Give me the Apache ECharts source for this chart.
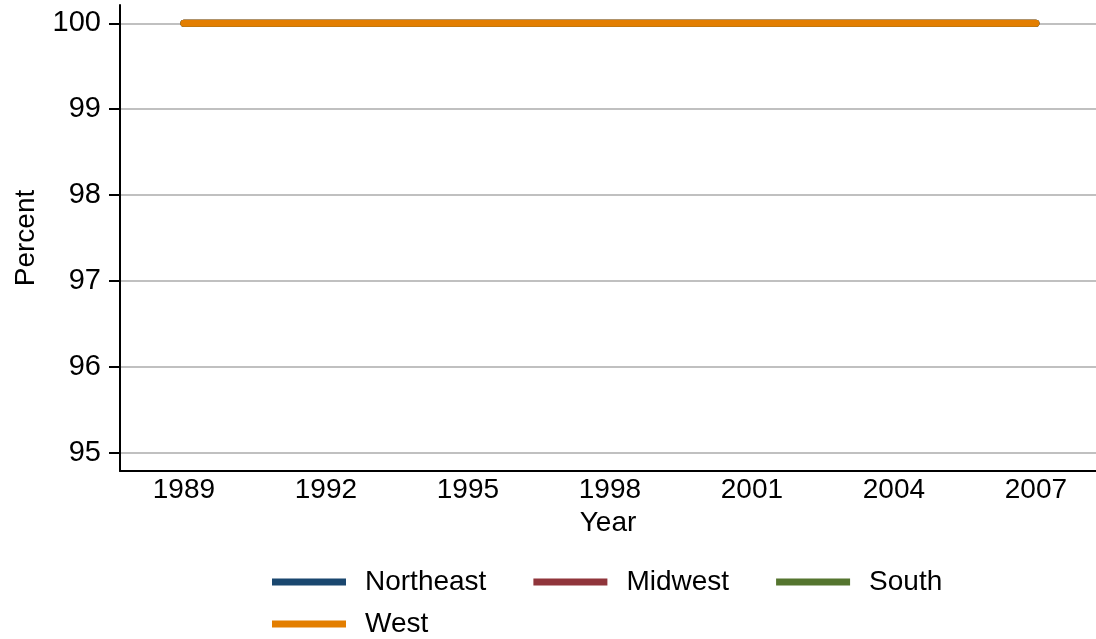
<!DOCTYPE html>
<html>
<head>
<meta charset="utf-8">
<script src="https://cdn.jsdelivr.net/npm/echarts@6/dist/echarts.min.js"></script>
<style>
html,body{margin:0;padding:0;background:#fff;}
#chart{width:1096px;height:639px;}
</style>
</head>
<body>
<div id="chart"></div>
<script>
const years = [1989,1990,1991,1992,1993,1994,1995,1996,1997,1998,1999,2000,2001,2002,2003,2004,2005,2006,2007];
const northeast = [100,100,100,100,100,100,100,100,100,100,100,100,100,100,100,100,100,100,100];
const midwest   = [100,100,100,100,100,100,100,100,100,100,100,100,100,100,100,100,100,100,100];
const south     = [100,100,100,100,100,100,100,100,100,100,100,100,100,100,100,100,100,100,100];
const west      = [100,100,100,100,100,100,100,100,100,100,100,100,100,100,100,100,100,100,100];
const xTicks = [1989,1992,1995,1998,2001,2004,2007];
const yTicks = [95,96,97,98,99,100];
const seriesNames = ['Northeast','Midwest','South','West'];
const colors = ['#1a476f','#90353b','#55752f','#e37e00'];
const seriesData = [northeast, midwest, south, west];

const font = 'Liberation Sans, Arial, sans-serif';
const chart = echarts.init(document.getElementById('chart'));
chart.setOption({
  animation: false,
  backgroundColor: '#ffffff',
  grid: { left: 120, right: 0, top: 5, bottom: 168, containLabel: false, outerBoundsMode: 'none' },
  xAxis: {
    type: 'value',
    min: 1987.65, max: 2008.27,
    name: 'Year', nameLocation: 'middle', nameGap: 36,
    nameTextStyle: { fontFamily: font, fontSize: 28, color: '#000' },
    axisLine: { show: true, onZero: false, lineStyle: { color: '#000', width: 2 } },
    axisTick: { show: false, customValues: xTicks },
    axisLabel: { customValues: xTicks, fontFamily: font, fontSize: 28, color: '#000', margin: 5, formatter: v => String(v) },
    splitLine: { show: false }
  },
  yAxis: {
    type: 'value',
    min: 94.786, max: 100.214,
    name: 'Percent', nameLocation: 'middle', nameGap: 80, nameRotate: 90,
    nameTextStyle: { fontFamily: font, fontSize: 28, color: '#000' },
    axisLine: { show: true, onZero: false, lineStyle: { color: '#000', width: 2 } },
    axisTick: { show: true, customValues: yTicks, length: 11, lineStyle: { color: '#000', width: 2 } },
    axisLabel: { customValues: yTicks, fontFamily: font, fontSize: 29, color: '#000', margin: 19, formatter: v => String(v) },
    splitLine: { show: true, lineStyle: { color: '#c0c0c0', width: 2 } }
  },
  legend: [
    {
      data: ['Northeast','Midwest','South'],
      left: 267, top: 563, orient: 'horizontal',
      itemWidth: 74, itemHeight: 7, itemGap: 47,
      icon: 'rect',
      textStyle: { fontFamily: font, fontSize: 28, color: '#000', padding: [0,0,0,14] }
    },
    {
      data: ['West'],
      left: 267, top: 605, orient: 'horizontal',
      itemWidth: 74, itemHeight: 7, itemGap: 47,
      icon: 'rect',
      textStyle: { fontFamily: font, fontSize: 28, color: '#000', padding: [0,0,0,14] }
    }
  ],
  series: seriesNames.map((name, i) => ({
    name: name,
    type: 'line',
    data: years.map((y, j) => [y, seriesData[i][j]]),
    showSymbol: false,
    symbol: 'none',
    color: colors[i],
    lineStyle: { color: colors[i], width: 7, cap: 'round', join: 'round' },
    itemStyle: { color: colors[i] },
    z: 2 + i
  }))
});
</script>
</body>
</html>
